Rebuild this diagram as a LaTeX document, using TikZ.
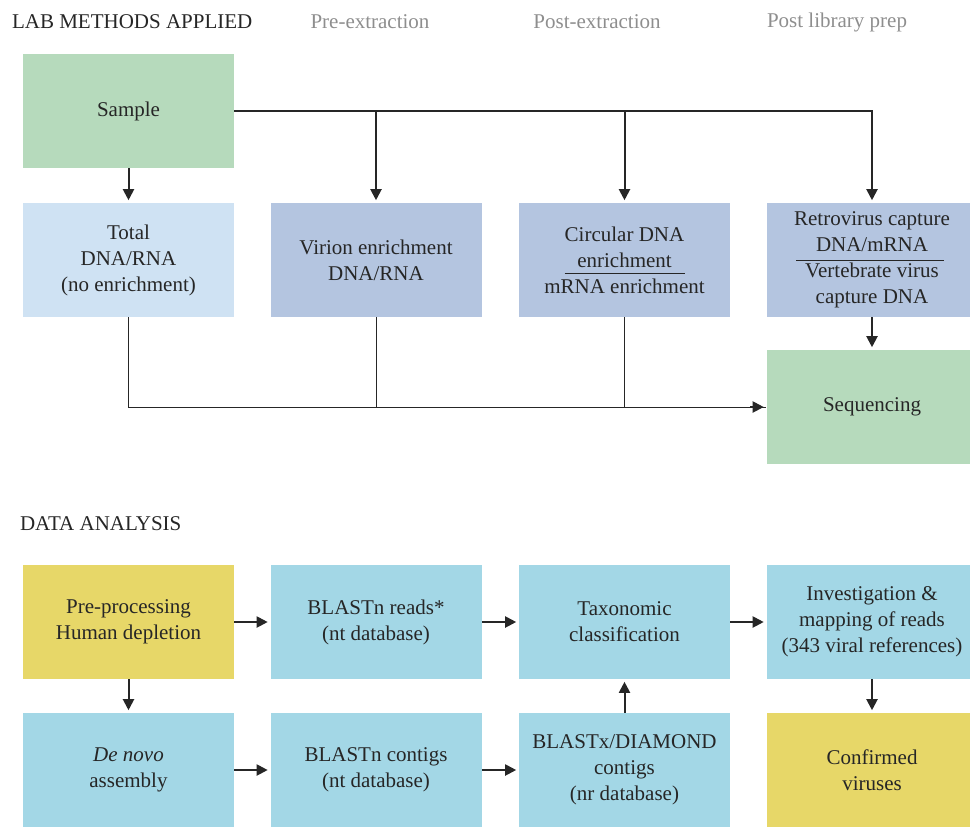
\documentclass[tikz,border=0pt]{standalone}
\usepackage{fontspec}
\setmainfont{Liberation Serif}
\usetikzlibrary{arrows.meta}
\definecolor{samplegreen}{HTML}{B6DABC}
\definecolor{plainblue}{HTML}{CFE2F3}
\definecolor{labblue}{HTML}{B4C5E0}
\definecolor{datablue}{HTML}{A3D7E6}
\definecolor{datayellow}{HTML}{E7D768}
\definecolor{headgray}{HTML}{8E8E8E}
\definecolor{inkgray}{HTML}{262626}

\begin{document}
\begin{tikzpicture}[x=0.5pt,y=-0.5pt,
        box/.style={minimum width=105.5pt,minimum height=57pt,inner sep=0pt,
            align=center,text=inkgray,font=\fontsize{10.5}{13}\selectfont},
        head/.style={anchor=west,text=inkgray,font=\fontsize{10.5}{12}\selectfont},
        phase/.style={text=headgray,font=\fontsize{10.5}{12}\selectfont},
        arr/.style={-{Triangle[length=5.5pt,width=5.5pt]},line width=1pt,draw=inkgray,shorten >=1.2pt},
        feed/.style={line width=0.45pt,draw=inkgray}]
            \useasboundingbox (0, 0) rectangle (970, 826);

            % lab methods
            \node[head] (labhead) at (5, 22) {LAB METHODS APPLIED};
            \node[phase] (pre) at (370, 22) {Pre-extraction};
            \node[phase] (post) at (597, 22) {Post-extraction};
            \node[phase] (lib) at (837, 22) {Post library prep};

            \node[box,fill=samplegreen] (sample) at (128.5, 111) {Sample};

            \node[box,fill=plainblue] (total) at (128.5, 260) {Total\\DNA/RNA\\(no enrichment)};
            \node[box,fill=labblue] (virion) at (376, 260) {Virion enrichment\\DNA/RNA};
            \node[box,fill=labblue] (circ) at (624.5, 260) {Circular DNA\\enrichment\\mRNA enrichment};
            \node[box,fill=labblue] (retro) at (872, 260) {Retrovirus capture\\DNA/mRNA\\Vertebrate virus\\capture DNA};

            \node[box,fill=samplegreen] (seq) at (872, 407) {Sequencing};

            \draw[line width=0.5pt,draw=inkgray]
                ([xshift=-30pt,yshift=-6.5pt]circ.center) -- ([xshift=30pt,yshift=-6.5pt]circ.center)
                ([xshift=-38pt]retro.center) -- ([xshift=36pt]retro.center);

            \draw[arr] (sample) -- (total);
            \draw[arr] (sample.east) -| (retro.north);
            \draw[arr] (sample.east -| virion.north) -- (virion.north);
            \draw[arr] (sample.east -| circ.north) -- (circ.north);
            \draw[arr] (retro) -- (seq);

            \draw[feed] (total.south) |- (seq.west);
            \draw[feed] (virion.south) -- (virion.south |- seq.west);
            \draw[feed] (circ.south) -- (circ.south |- seq.west);
            \draw[arr] ([xshift=-8pt]seq.west) -- (seq.west);

            % data analysis
            \node[head] (datahead) at (13, 524) {DATA ANALYSIS};

            \node[box,fill=datayellow] (prep) at (128.5, 622) {Pre-processing\\Human depletion};
            \node[box,fill=datablue] (reads) at (376, 622) {BLASTn reads*\\(nt database)};
            \node[box,fill=datablue] (taxo) at (624.5, 622) {Taxonomic\\classification};
            \node[box,fill=datablue] (invest) at (872, 622) {Investigation \&\\mapping of reads\\(343 viral references)};

            \node[box,fill=datablue] (denovo) at (128.5, 770) {\textit{De novo}\\assembly};
            \node[box,fill=datablue] (contigs) at (376, 770) {BLASTn contigs\\(nt database)};
            \node[box,fill=datablue] (blastx) at (624.5, 770) {BLASTx/DIAMOND\\contigs\\(nr database)};
            \node[box,fill=datayellow] (confirmed) at (872, 770) {Confirmed\\viruses};

            \draw[arr] (prep) -- (reads);
            \draw[arr] (reads) -- (taxo);
            \draw[arr] (taxo) -- (invest);
            \draw[arr] (prep) -- (denovo);
            \draw[arr] (denovo) -- (contigs);
            \draw[arr] (contigs) -- (blastx);
            \draw[arr] (blastx) -- (taxo);
            \draw[arr] (invest) -- (confirmed);
        \end{tikzpicture}
\end{document}
